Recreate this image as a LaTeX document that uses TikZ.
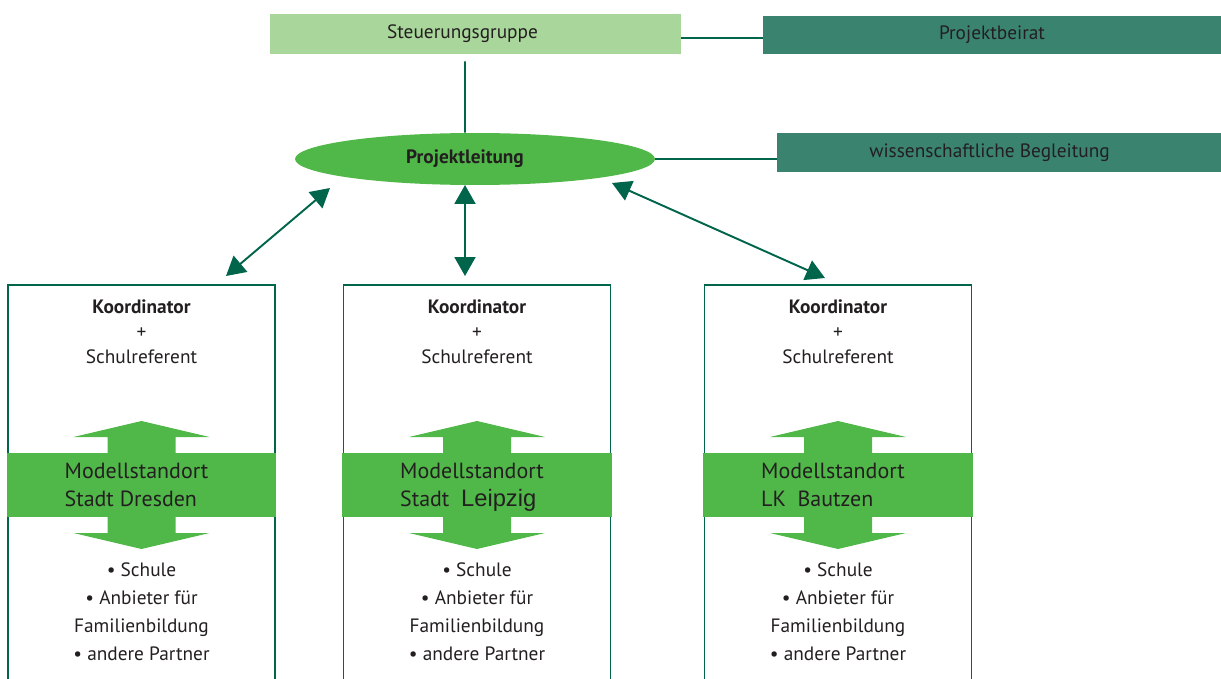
\documentclass[tikz,border=0pt]{standalone}
\usepackage{fontspec}
\setmainfont{PT Sans}
\newfontfamily\altsans{Liberation Sans}
\usepackage{xcolor}
\usetikzlibrary{shapes.geometric, arrows.meta, positioning}

\definecolor{lightgreen}{HTML}{A9D69B}
\definecolor{midgreen}{HTML}{50B848}
\definecolor{boardteal}{HTML}{3A836F}
\definecolor{darkline}{HTML}{00654A}
\definecolor{txt}{HTML}{231F20}

\begin{document}
\begin{tikzpicture}[x=0.02cm, y=-0.02cm,
    every node/.style={text=txt, font=\fontsize{11}{14.2}\selectfont},
    topbox/.style={rectangle, fill=lightgreen, minimum width=8.22cm, minimum height=0.8cm, inner sep=0pt},
    sidebox/.style={rectangle, fill=boardteal, minimum height=0.77cm, inner sep=0pt},
    leitung/.style={ellipse, fill=midgreen, minimum width=7.2cm, minimum height=1.04cm, inner sep=0pt,
        font=\fontsize{11}{14.2}\selectfont\bfseries},
    site/.style={rectangle, draw=darkline, line width=1.1pt, minimum width=5.34cm, minimum height=8.6cm,
        anchor=north, inner sep=0pt},
    band/.style={rectangle, fill=midgreen, minimum width=5.4cm, minimum height=1.28cm, inner sep=0pt,
        align=left, font=\fontsize{12.5}{15.9}\selectfont},
    link/.style={darkline, line width=1.1pt},
    arrowlink/.style={link, {Triangle[length=0.38cm,width=0.42cm]}-{Triangle[length=0.38cm,width=0.42cm]}}
]
\useasboundingbox (0,0) rectangle (1221,679);

% top level
\node[topbox] (steuer) at (475.5,34) {Steuerungsgruppe\hspace*{0.52cm}};
\node[sidebox, minimum width=9.16cm] (beirat) at (992,35) {Projektbeirat};
\node[leitung] (leitung) at (475,159) {Projektleitung\hspace*{0.4cm}};
\node[sidebox, minimum width=8.88cm] (wiss) at (999,152.5) {wissenschaftliche Begleitung\hspace*{0.38cm}};

\draw[link] ([yshift=-0.08cm]steuer.east) -- ([yshift=-0.08cm]steuer.east -| beirat.west);
\draw[link] ([shift={(-10.5,7)}]steuer.south) -- ([xshift=-0.2cm]leitung.north);
\draw[link] (leitung.east) -- (leitung.east -| wiss.west);

% sites
\foreach \name/\cx/\place in {dresden/141.5/Stadt Dresden,
                              leipzig/477/{Stadt \ {\altsans\fontsize{13.5}{15.9}\selectfont\smash{Leipzig}}},
                              bautzen/838/{LK \ Bautzen}} {
    \node[site] (\name) at (\cx,284) {};
    \node[align=center] (\name-head) at (\cx,332) {\textbf{Koordinator}\\+\\Schulreferent};
    \fill[midgreen] (\cx,421) -- (\cx+68,437) -- (\cx+34,437) -- (\cx+34,533) -- (\cx+68,533)
        -- (\cx,549) -- (\cx-68,533) -- (\cx-34,533) -- (\cx-34,437) -- (\cx-68,437) -- cycle;
    \node[band] (\name-band) at (\cx,485) {Modellstandort\hspace*{0.2cm}\\\place};
    \node[align=center, font=\fontsize{11}{15.9}\selectfont] (\name-list) at (\cx,612)
        {• Schule\\• Anbieter für\\Familienbildung\\• andere Partner};
}

\draw[arrowlink] ([shift={(-145,29)}]leitung.center) -- ([shift={(84.5,-8)}]dresden.north);
\draw[arrowlink] ([shift={(-10,26)}]leitung.center) -- ([shift={(-12,-8)}]leipzig.north);
\draw[arrowlink] ([shift={(137,24)}]leitung.center) -- ([shift={(-13,-6)}]bautzen.north);

\end{tikzpicture}
\end{document}
